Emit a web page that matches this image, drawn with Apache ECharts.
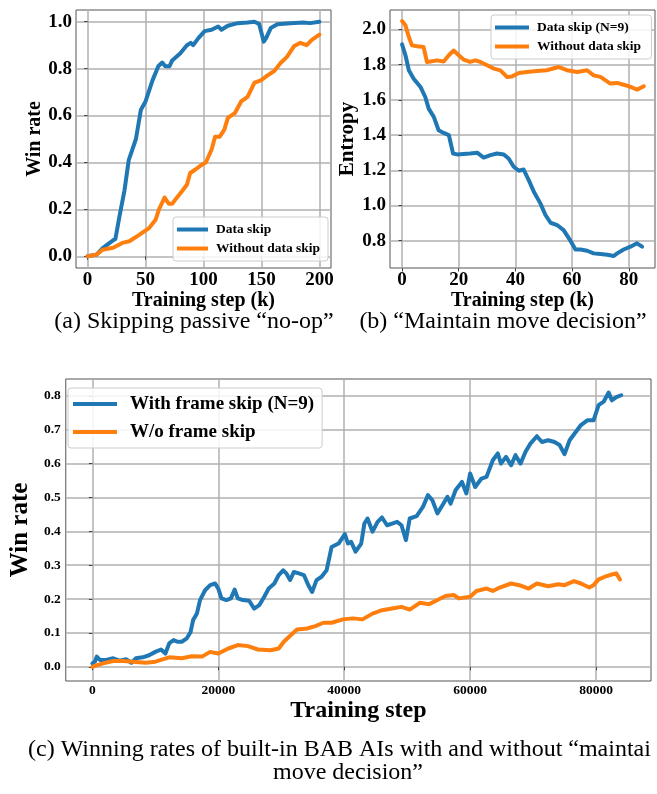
<!DOCTYPE html>
<html><head><meta charset="utf-8">
<script src="https://cdn.jsdelivr.net/npm/echarts@6/dist/echarts.min.js"></script>
<style>html,body{margin:0;padding:0;background:#fff}#c{width:657px;height:794px}</style>
</head><body><div id="c"></div>
<script>
// ---------- (a) Skipping passive "no-op" ----------
const aStepSkip = [0,7.7,13,22,24,27.5,31.8,35.5,41.7,46,50,56,61,64.4,67,70.6,73,80,85.7,89,91,95.6,101,107,112.6,115.5,121,129.6,138,144,148,152,154,158,163.7,175,186,192,200];
const aRateSkip = [0,0.007,0.035,0.068,0.074,0.17,0.28,0.41,0.50,0.625,0.66,0.75,0.81,0.826,0.81,0.81,0.835,0.866,0.90,0.91,0.90,0.93,0.96,0.966,0.98,0.966,0.983,0.994,0.997,1.0,0.99,0.915,0.93,0.973,0.989,0.994,0.997,0.994,1.0];
const aStepNo = [0,7.7,13,22,30,36,41.7,47,53,58.7,61.6,66.4,70,73,77,81.4,85.7,88.5,93,98.4,102,107,110,114,118,121,127,132.5,138,144,149.5,155,161,166.5,172,178,183.5,189,193.5,200];
const aRateNo = [0,0.007,0.028,0.036,0.057,0.064,0.082,0.10,0.12,0.156,0.2,0.25,0.224,0.224,0.25,0.277,0.305,0.355,0.37,0.39,0.40,0.455,0.51,0.51,0.54,0.59,0.61,0.66,0.68,0.74,0.75,0.77,0.79,0.824,0.85,0.895,0.91,0.90,0.923,0.945];
const aXTicks = [0,50,100,150,200];
const aYTicks = [0,0.2,0.4,0.6,0.8,1.0];

// ---------- (b) "Maintain move decision" ----------
const bStepSkip = [0,1.2,2.4,4.1,6.5,8.2,9.4,11.2,12.9,14.7,16.5,18,19.4,24,26.5,28.8,31.2,33.5,35.9,37.6,39.4,41.2,42.9,44.7,46.5,48.8,50.6,52.4,54.7,57,59.4,61.2,63,65.3,67.6,70,72.4,74.7,75.9,78.2,80.6,82.9,84.7];
const bEntSkip = [1.915,1.853,1.768,1.72,1.673,1.616,1.55,1.503,1.427,1.412,1.40,1.295,1.29,1.295,1.30,1.272,1.286,1.295,1.29,1.267,1.22,1.197,1.204,1.144,1.078,1.012,0.946,0.902,0.889,0.86,0.80,0.75,0.75,0.743,0.728,0.724,0.72,0.713,0.728,0.75,0.766,0.785,0.766];
const bStepNo = [0,1.2,2.4,3.5,5.3,7.6,8.8,10,12.4,14.7,16.5,18.2,20,21.8,24,25.9,27.6,30,32.4,34.7,37,38.8,41.2,44,47.6,51,55.3,58.2,61.8,65.3,67.6,70,73.5,75.9,78.8,81.2,82.9,85.3];
const bEntNo = [2.047,2.023,1.957,1.909,1.904,1.90,1.815,1.818,1.824,1.818,1.853,1.88,1.853,1.828,1.815,1.824,1.815,1.796,1.777,1.767,1.73,1.733,1.752,1.758,1.764,1.768,1.786,1.768,1.758,1.768,1.739,1.73,1.692,1.696,1.683,1.67,1.658,1.677];
const bXTicks = [0,20,40,60,80];
const bYTicks = [0.8,1.0,1.2,1.4,1.6,1.8,2.0];

// ---------- (c) Winning rates vs built-in BAB AIs (steps in thousands) ----------
const cStepSkipK = [0,0.4,0.7,1.2,2.2,3.3,4.3,5.4,6.2,6.9,8,9,10,10.9,11.6,12.2,12.9,13.5,14.2,15,15.6,16,16.6,17.1,17.9,18.7,19.5,20,20.5,21.3,22,22.6,23.1,23.9,24.9,25.7,26.5,27.3,28,28.9,29.6,30.3,30.8,31.4,32,32.8,33.6,34.3,34.9,35.6,36.4,37.2,38,
  39.1,40.1,40.6,41.1,41.8,42.7,43.2,43.7,44.5,45.3,46,46.8,47.6,48.4,49.1,49.8,50.4,51.5,52.5,53.3,54,54.8,55.6,56.4,56.9,57.7,58.7,59.4,60,60.8,61.8,62.6,63.6,64.4,64.9,65.7,66.5,67.2,68,68.8,69.6,70.6,71.4,72.4,73.4,74.2,75,75.8,76.8,77.6,78.6,79.6,80.4,81.2,82,82.5,83.3,84];
const cRateSkip = [0.01,0.015,0.03,0.02,0.02,0.025,0.018,0.022,0.012,0.025,0.028,0.034,0.044,0.051,0.039,0.069,0.079,0.074,0.074,0.084,0.103,0.138,0.157,0.197,0.226,0.241,0.246,0.231,0.202,0.197,0.202,0.228,0.202,0.197,0.195,0.172,0.182,0.207,0.231,0.246,0.271,0.285,0.276,0.256,0.28,0.276,0.271,0.241,0.221,0.256,0.266,0.285,0.354,
  0.364,0.392,0.364,0.369,0.34,0.364,0.423,0.438,0.399,0.428,0.441,0.418,0.423,0.428,0.418,0.374,0.438,0.445,0.472,0.507,0.492,0.453,0.477,0.502,0.482,0.522,0.546,0.512,0.571,0.531,0.556,0.561,0.61,0.63,0.60,0.62,0.595,0.625,0.60,0.635,0.66,0.681,0.664,0.669,0.664,0.655,0.628,0.669,0.694,0.714,0.728,0.728,0.773,0.783,0.81,0.787,0.797,0.802];
const cStepNoK = [0,1.7,3.3,4.9,6.4,8.5,10,12.2,14.2,15.8,17.4,18.7,20,21.6,23.1,24.7,26.3,28.3,29.6,30.4,31.5,32.5,34.1,35.4,36.7,38,39.8,41.4,42.9,44.5,46,47.6,49.1,50.4,52,53.5,54.8,56.1,57.4,58.2,60,61,62.6,63.6,64.7,66.5,67.8,69.3,70.6,72.4,74,75,76.5,77.6,78.9,79.6,80.4,81.4,82.2,83.2,83.8];
const cRateNo = [0,0.01,0.017,0.017,0.015,0.012,0.015,0.028,0.025,0.031,0.03,0.044,0.039,0.054,0.064,0.061,0.051,0.049,0.054,0.074,0.093,0.11,0.113,0.12,0.13,0.13,0.14,0.143,0.14,0.157,0.167,0.172,0.177,0.169,0.189,0.185,0.197,0.209,0.212,0.202,0.207,0.224,0.231,0.224,0.234,0.246,0.241,0.231,0.246,0.238,0.244,0.241,0.253,0.246,0.234,0.241,0.258,0.266,0.271,0.276,0.258];
const cXTicks = [0,20000,40000,60000,80000];
const cYTicks = [0,0.1,0.2,0.3,0.4,0.5,0.6,0.7,0.8];

const FONT = 'Liberation Serif';
const BLUE = '#1f77b4', ORANGE = '#ff7f0e';
const zip = (xs, ys, mul) => xs.map((x, i) => [x * (mul || 1), ys[i]]);

function mkAxis(gridIndex, min, max, ticks, o) {
  return {
    type: 'value', gridIndex, min, max,
    axisLine: { show: false },
    axisTick: { show: true, length: 3.5, customValues: ticks, lineStyle: { color: '#444', width: 1 } },
    axisLabel: { customValues: ticks, fontFamily: FONT, fontWeight: 'bold', fontSize: o.fs, color: '#000', margin: o.margin, formatter: o.fmt },
    splitLine: { show: true, lineStyle: { color: '#b0b0b0', width: 1.5 } },
    name: o.name, nameLocation: 'middle', nameGap: o.nameGap,
    nameTextStyle: { fontFamily: FONT, fontWeight: 'bold', fontSize: o.nfs, color: '#000' }
  };
}
const f1 = v => v.toFixed(1);
const fi = v => String(Math.round(v));
const gridBase = { show: true, borderColor: '#555', borderWidth: 1, backgroundColor: 'transparent' };
const legendBase = { orient: 'vertical', icon: 'rect', itemHeight: 4, borderColor: '#cccccc', borderWidth: 1, borderRadius: 3, backgroundColor: 'rgba(255,255,255,0.85)', selectedMode: false };
function line(name, data, xi, color, w) {
  return { type: 'line', name, data, xAxisIndex: xi, yAxisIndex: xi, showSymbol: false, symbol: 'none',
    lineStyle: { width: w, color, join: 'round', cap: 'round' }, itemStyle: { color }, animation: false };
}

const option = {
  animation: false,
  grid: [
    Object.assign({ left: 76, top: 10, width: 255, height: 258 }, gridBase),
    Object.assign({ left: 390, top: 10, width: 265, height: 258 }, gridBase),
    Object.assign({ left: 58, top: 379, width: 593, height: 302 }, gridBase)
  ],
  xAxis: [
    mkAxis(0, -10, 210, aXTicks, { fs: 19, margin: 3, fmt: fi, name: 'Training step (k)', nameGap: 20, nfs: 20 }),
    mkAxis(1, -4.25, 89.25, bXTicks, { fs: 19, margin: 3, fmt: fi, name: 'Training step (k)', nameGap: 20, nfs: 20 }),
    mkAxis(2, -4225, 88725, cXTicks, { fs: 13.5, margin: 3, fmt: fi, name: 'Training step', nameGap: 15, nfs: 24 })
  ],
  yAxis: [
    mkAxis(0, -0.05, 1.05, aYTicks, { fs: 19, margin: 4, fmt: f1, name: 'Win rate', nameGap: 26, nfs: 20 }),
    mkAxis(1, 0.645, 2.11, bYTicks, { fs: 19, margin: 4, fmt: f1, name: 'Entropy', nameGap: 32, nfs: 21 }),
    mkAxis(2, -0.042, 0.85, cYTicks, { fs: 13.5, margin: 5, fmt: f1, name: 'Win rate', nameGap: 24, nfs: 25 })
  ],
  legend: [
    Object.assign({}, legendBase, { data: ['Data skip', 'Without data skip'], left: 173, top: 217, itemWidth: 31, itemGap: 4, padding: [5, 8, 5, 4],
      textStyle: { fontFamily: FONT, fontWeight: 'bold', fontSize: 13.5, color: '#000', lineHeight: 15, padding: [0, 0, 0, 3] } }),
    Object.assign({}, legendBase, { data: ['Data skip (N=9)', 'Without data skip '], left: 491, top: 15, itemWidth: 34, itemGap: 4, padding: [5, 7, 5, 4],
      textStyle: { fontFamily: FONT, fontWeight: 'bold', fontSize: 13.5, color: '#000', lineHeight: 15, padding: [0, 0, 0, 3] } }),
    Object.assign({}, legendBase, { data: ['With frame skip (N=9)', 'W/o frame skip'], left: 68, top: 388, itemWidth: 44, itemGap: 6, padding: [5, 8, 5, 5],
      textStyle: { fontFamily: FONT, fontWeight: 'bold', fontSize: 19, color: '#000', lineHeight: 22, padding: [0, 0, 0, 8] } })
  ],
  series: [
    line('Data skip', zip(aStepSkip, aRateSkip), 0, BLUE, 4),
    line('Without data skip', zip(aStepNo, aRateNo), 0, ORANGE, 4),
    line('Data skip (N=9)', zip(bStepSkip, bEntSkip), 1, BLUE, 4),
    line('Without data skip ', zip(bStepNo, bEntNo), 1, ORANGE, 4),
    line('With frame skip (N=9)', zip(cStepSkipK, cRateSkip, 1000), 2, BLUE, 4),
    line('W/o frame skip', zip(cStepNoK, cRateNo, 1000), 2, ORANGE, 4)
  ],
  graphic: [
    { type: 'text', x: 194, y: 322, style: { text: '(a) Skipping passive \u201cno-op\u201d', font: '24px "Liberation Serif"', fill: '#000', align: 'center', verticalAlign: 'middle' } },
    { type: 'text', x: 503, y: 322, style: { text: '(b) \u201cMaintain move decision\u201d', font: '24px "Liberation Serif"', fill: '#000', align: 'center', verticalAlign: 'middle' } },
    { type: 'text', x: 28, y: 750, style: { text: '(c) Winning rates of built-in BAB AIs with and without \u201cmaintai', font: '24px "Liberation Serif"', fill: '#000', align: 'left', verticalAlign: 'middle' } },
    { type: 'text', x: 348, y: 773, style: { text: 'move decision\u201d', font: '24px "Liberation Serif"', fill: '#000', align: 'center', verticalAlign: 'middle' } }
  ]
};
const chart = echarts.init(document.getElementById('c'), null, { renderer: 'canvas' });
chart.setOption(option);
</script>
</body></html>
